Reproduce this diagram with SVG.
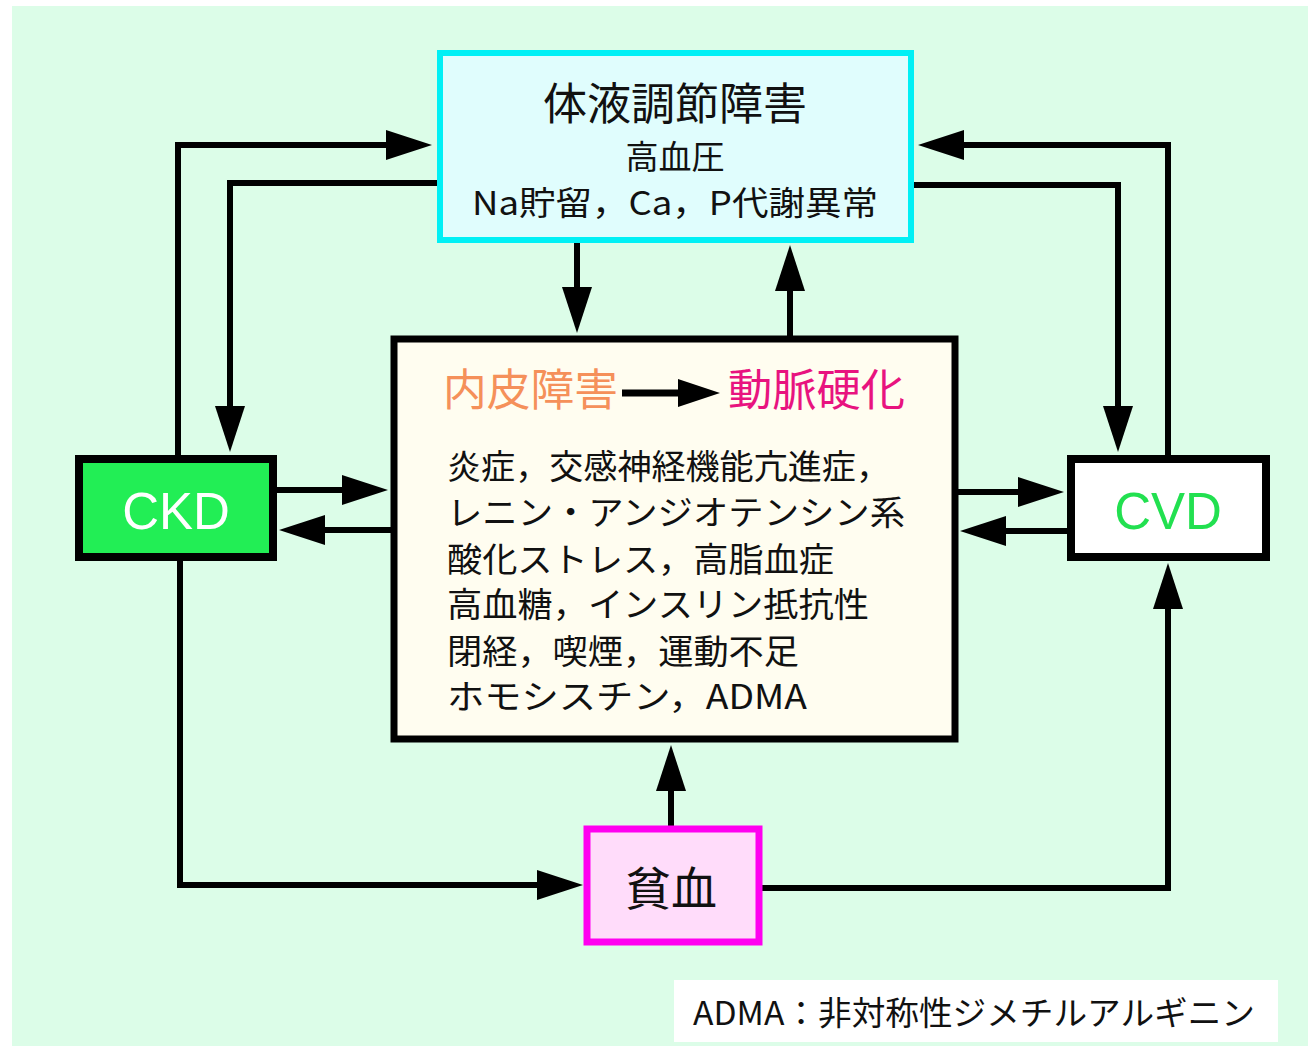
<svg xmlns="http://www.w3.org/2000/svg" width="1308" height="1046" viewBox="0 0 1308 1046">
<defs>
<style>
.jp{font-family:"Noto Sans CJK JP","Liberation Sans",sans-serif;fill:#111}
.lat{font-family:"Liberation Sans","Noto Sans CJK JP",sans-serif}
.conn{fill:none;stroke:#000;stroke-width:6;stroke-linejoin:miter}
</style>
<marker id="ah" markerUnits="userSpaceOnUse" markerWidth="46" markerHeight="30" viewBox="0 0 46 30" refX="26" refY="15" orient="auto">
<path d="M0,0 L46,15 L0,30 Z" fill="#000"/>
</marker>
<marker id="ah2" markerUnits="userSpaceOnUse" markerWidth="42" markerHeight="28" viewBox="0 0 42 28" refX="22" refY="14" orient="auto">
<path d="M0,0 L42,14 L0,28 Z" fill="#000"/>
</marker>
</defs>
<rect x="0" y="0" width="1308" height="1046" fill="#ffffff"/>
<rect x="12" y="6" width="1296" height="1040" fill="#dcfde8"/>

<g id="connectors">
<path class="conn" d="M178,459 V145 H412" marker-end="url(#ah)"/>
<path class="conn" d="M440,183 H230 V432" marker-end="url(#ah)"/>
<path class="conn" d="M1168,459 V145 H938" marker-end="url(#ah)"/>
<path class="conn" d="M911,185 H1118 V432" marker-end="url(#ah)"/>
<path class="conn" d="M577,240 V313" marker-end="url(#ah)"/>
<path class="conn" d="M790,339 V265" marker-end="url(#ah)"/>
<path class="conn" d="M273,490 H368" marker-end="url(#ah)"/>
<path class="conn" d="M394,530 H299" marker-end="url(#ah)"/>
<path class="conn" d="M955,492 H1044" marker-end="url(#ah)"/>
<path class="conn" d="M1071,531 H980" marker-end="url(#ah)"/>
<path class="conn" d="M180,557 V885 H563" marker-end="url(#ah)"/>
<path class="conn" d="M758,888 H1168 V583" marker-end="url(#ah)"/>
<path class="conn" d="M671,830 V765" marker-end="url(#ah)"/>
</g>

<g id="node-taieki">
<rect x="440" y="53" width="471" height="187" fill="#e0fdfd" stroke="#00f0f5" stroke-width="6"/>
<text class="jp" x="675" y="120" font-size="44" text-anchor="middle">体液調節障害</text>
<text class="jp" x="675" y="169" font-size="33" text-anchor="middle">高血圧</text>
<text class="jp" x="675" y="215" font-size="33" text-anchor="middle" textLength="406" lengthAdjust="spacingAndGlyphs">Na貯留，Ca，P代謝異常</text>
</g>

<g id="node-center">
<rect x="394" y="339" width="561" height="400" fill="#fffdf0" stroke="#000" stroke-width="7"/>
<text class="jp" x="443" y="406" font-size="44" style="fill:#f5905a" textLength="175" lengthAdjust="spacingAndGlyphs">内皮障害</text>
<path d="M622,393 H700" stroke="#000" stroke-width="7" fill="none" marker-end="url(#ah2)"/>
<text class="jp" x="728" y="406" font-size="44" style="fill:#e8137f" textLength="177" lengthAdjust="spacingAndGlyphs">動脈硬化</text>
<text class="jp" x="447" y="479" font-size="34" textLength="443" lengthAdjust="spacingAndGlyphs">炎症，交感神経機能亢進症，</text>
<text class="jp" x="447" y="525" font-size="34" textLength="458" lengthAdjust="spacingAndGlyphs">レニン・アンジオテンシン系</text>
<text class="jp" x="447" y="572" font-size="34" textLength="387" lengthAdjust="spacingAndGlyphs">酸化ストレス，高脂血症</text>
<text class="jp" x="447" y="617" font-size="34" textLength="422" lengthAdjust="spacingAndGlyphs">高血糖，インスリン抵抗性</text>
<text class="jp" x="447" y="664" font-size="34" textLength="352" lengthAdjust="spacingAndGlyphs">閉経，喫煙，運動不足</text>
<text class="jp" x="447" y="709" font-size="34" textLength="360" lengthAdjust="spacingAndGlyphs">ホモシスチン，ADMA</text>
</g>

<g id="node-ckd">
<rect x="79" y="459" width="194" height="98" fill="#22ee55" stroke="#000" stroke-width="8"/>
<text class="lat" x="176" y="529" font-size="51" text-anchor="middle" fill="#ffffff">CKD</text>
</g>

<g id="node-cvd">
<rect x="1071" y="459" width="195" height="98" fill="#ffffff" stroke="#000" stroke-width="8"/>
<text class="lat" x="1168" y="529" font-size="51" text-anchor="middle" fill="#22e050">CVD</text>
</g>

<g id="node-hinketsu">
<rect x="587" y="829" width="172" height="113" fill="#ffdcfa" stroke="#ff00f0" stroke-width="7"/>
<text class="jp" x="671" y="905" font-size="46" text-anchor="middle">貧血</text>
</g>

<g id="footnote">
<rect x="674" y="980" width="604" height="62" fill="#ffffff"/>
<text class="jp" x="693" y="1025" font-size="33" textLength="562" lengthAdjust="spacingAndGlyphs">ADMA：非対称性ジメチルアルギニン</text>
</g>
</svg>
